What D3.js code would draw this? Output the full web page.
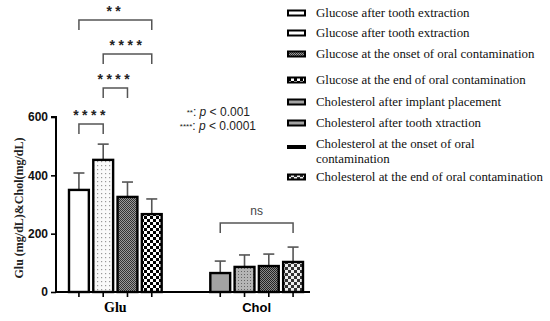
<!DOCTYPE html>
<html>
<head>
<meta charset="utf-8">
<script src="https://cdn.jsdelivr.net/npm/d3@7"></script>
<style>
  body { margin: 0; background: #fff; }
  svg { display: block; }
</style>
</head>
<body>
<div id="drawing-area" style="width:550px;height:321px"></div>
<script>
// data
var groups = ["Glu", "Chol"];
var gluMeans = [350, 453, 326, 267];
var gluErr = [58, 54, 51, 52];
var cholMeans = [65, 86, 89, 103];
var cholErr = [41, 41, 41, 51];
var yTicks = [0, 200, 400, 600];
var legendLabels = [
    ["Glucose after tooth extraction"],
    ["Glucose after tooth extraction"],
    ["Glucose at the onset of oral contamination"],
    ["Glucose at the end of oral contamination"],
    ["Cholesterol after implant placement"],
    ["Cholesterol after tooth xtraction"],
    ["Cholesterol at the onset of oral", "contamination"],
    ["Cholesterol at the end of oral contamination"]
];
// brackets: [group, from bar, to bar, label]
var brackets = [
    ["Glu", 0, 3, "**"],
    ["Glu", 1, 3, "****"],
    ["Glu", 1, 2, "****"],
    ["Glu", 0, 1, "****"],
    ["Chol", 0, 3, "ns"]
];

var sx = 550, sy = 321;
var svg = d3.select('#drawing-area').append('svg').attr('width', sx).attr('height', sy);

// fill patterns
var defs = svg.append("defs");
function pat(id, size, bg, draw) {
    var p = defs.append("pattern").attr("id", id).attr("patternUnits", "userSpaceOnUse")
        .attr("width", size).attr("height", size);
    p.append("rect").attr("width", size).attr("height", size).attr("fill", bg);
    draw(p);
}
pat("p0", 4, "#fff", function (p) {});
pat("p1", 4, "#fafafa", function (p) {
    p.append("rect").attr("x", 1).attr("y", 1).attr("width", 1.2).attr("height", 1.2).attr("fill", "#999");
});
pat("p2", 2, "#9a9a9a", function (p) {
    p.append("rect").attr("width", 1).attr("height", 1).attr("fill", "#333");
    p.append("rect").attr("x", 1).attr("y", 1).attr("width", 1).attr("height", 1).attr("fill", "#333");
});
pat("p3", 6, "#fff", function (p) {
    p.append("rect").attr("width", 3).attr("height", 3).attr("fill", "#000");
    p.append("rect").attr("x", 3).attr("y", 3).attr("width", 3).attr("height", 3).attr("fill", "#000");
});
pat("p4", 4, "#a3a3a3", function (p) {});
pat("p5", 3, "#b5b5b5", function (p) {
    p.append("rect").attr("x", 1).attr("y", 1).attr("width", 1).attr("height", 1).attr("fill", "#666");
});
pat("p6", 2, "#8a8a8a", function (p) {
    p.append("rect").attr("width", 1).attr("height", 1).attr("fill", "#222");
    p.append("rect").attr("x", 1).attr("y", 1).attr("width", 1).attr("height", 1).attr("fill", "#222");
});
pat("p7", 6, "#eee", function (p) {
    p.append("rect").attr("width", 3).attr("height", 3).attr("fill", "#333");
    p.append("rect").attr("x", 3).attr("y", 3).attr("width", 3).attr("height", 3).attr("fill", "#333");
});
var fills = { Glu: ["p0", "p1", "p2", "p3"], Chol: ["p4", "p5", "p6", "p7"] };
var legendFills = ["p0", "p0", "p2", "p3", "p4", "p4", "p6", "p7"];

// scales
var y = d3.scaleLinear().domain([0, 600]).range([292, 117]);
var x0 = d3.scaleBand().domain(groups).range([68, 304]).paddingInner(0.33).paddingOuter(0);
var x1 = d3.scaleBand().domain([0, 1, 2, 3]).range([0, x0.bandwidth()]).paddingInner(0.1).paddingOuter(0);

var series = [
    { g: "Glu", means: gluMeans, err: gluErr },
    { g: "Chol", means: cholMeans, err: cholErr }
];
var bars = [];
series.forEach(function (s) {
    s.means.forEach(function (m, i) {
        bars.push({ g: s.g, i: i, v: m, e: s.err[i] });
    });
});
function cx(d) { return x0(d.g) + x1(d.i) + x1.bandwidth() / 2; }

// error bars (upper only)
var eb = svg.append("g").attr("stroke", "#555").attr("stroke-width", 1.6);
bars.forEach(function (d) {
    eb.append("line").attr("x1", cx(d)).attr("x2", cx(d)).attr("y1", y(d.v)).attr("y2", y(d.v + d.e));
    eb.append("line").attr("x1", cx(d) - 5.5).attr("x2", cx(d) + 5.5).attr("y1", y(d.v + d.e)).attr("y2", y(d.v + d.e));
});

// bars
svg.append("g").selectAll("rect").data(bars).enter().append("rect")
    .attr("x", function (d) { return x0(d.g) + x1(d.i) + 1; })
    .attr("y", function (d) { return y(d.v); })
    .attr("width", x1.bandwidth() - 2)
    .attr("height", function (d) { return y(0) - y(d.v); })
    .attr("fill", function (d) { return "url(#" + fills[d.g][d.i] + ")"; })
    .attr("stroke", "#000").attr("stroke-width", 2.4);

// y axis
var yAxis = svg.append("g").attr("transform", "translate(56,0)")
    .call(d3.axisLeft(y).tickValues(yTicks).tickSize(5).tickPadding(3));
yAxis.select(".domain").attr("stroke", "#000").attr("stroke-width", 2).attr("d", "M-5," + y(600) + "H0V" + y(0));
yAxis.selectAll(".tick line").attr("stroke", "#000").attr("stroke-width", 1.6);
yAxis.selectAll(".tick text").attr("font-family", "Liberation Sans, Arial, sans-serif")
    .attr("font-size", 12).attr("font-weight", "bold").attr("fill", "#111");

// x baseline and ticks
svg.append("line").attr("x1", 55).attr("x2", 310).attr("y1", y(0)).attr("y2", y(0))
    .attr("stroke", "#000").attr("stroke-width", 2);
svg.append("g").selectAll("line").data(bars).enter().append("line")
    .attr("x1", cx).attr("x2", cx).attr("y1", y(0)).attr("y2", y(0) + 5)
    .attr("stroke", "#000").attr("stroke-width", 1.6);
svg.append("text").attr("x", x0("Glu") + x0.bandwidth() / 2).attr("y", 312)
    .attr("text-anchor", "middle").attr("font-family", "Liberation Serif, serif")
    .attr("font-weight", "bold").attr("font-size", 14).text("Glu");
svg.append("text").attr("x", x0("Chol") + x0.bandwidth() / 2).attr("y", 312)
    .attr("text-anchor", "middle").attr("font-family", "Liberation Sans, Arial, sans-serif")
    .attr("font-weight", "bold").attr("font-size", 13).text("Chol");

// y label
svg.append("text").attr("transform", "translate(23,208) rotate(-90)")
    .attr("text-anchor", "middle").attr("font-family", "Liberation Serif, serif")
    .attr("font-weight", "bold").attr("font-size", 12).attr("fill", "#222")
    .text("Glu (mg/dL)&Chol(mg/dL)");

// significance brackets
var bracketTops = [20, 54, 88, 124, 223];
var bk = svg.append("g");
brackets.forEach(function (b, k) {
    var xa = x0(b[0]) + x1(b[1]) + x1.bandwidth() / 2;
    var xb = x0(b[0]) + x1(b[2]) + x1.bandwidth() / 2;
    var t = bracketTops[k];
    bk.append("path").attr("d", "M" + xa + "," + (t + 10) + "V" + t + "H" + xb + "V" + (t + 10))
        .attr("fill", "none").attr("stroke", "#555").attr("stroke-width", 1.5);
    var lab = bk.append("text").attr("x", (xa + xb) / 2).attr("text-anchor", "middle").text(b[3]);
    if (b[3] == "ns") {
        lab.attr("y", t - 8).attr("font-family", "Liberation Sans, Arial, sans-serif")
            .attr("font-size", 12).attr("fill", "#444");
    } else {
        lab.attr("y", t - 4).attr("font-family", "Liberation Sans, Arial, sans-serif")
            .attr("font-size", 14).attr("font-weight", "bold").attr("letter-spacing", 3.5)
            .attr("fill", "#222");
    }
});

// p-value note
var note = svg.append("g").attr("font-family", "Liberation Sans, Arial, sans-serif").attr("font-size", 12).attr("fill", "#222");
var n1 = note.append("text").attr("x", 250).attr("y", 116).attr("text-anchor", "end");
n1.append("tspan").attr("font-size", 8).attr("dy", -1).text("**");
n1.append("tspan").attr("dy", 1).text(": ");
n1.append("tspan").attr("font-style", "italic").text("p");
n1.append("tspan").text(" < 0.001");
var n2 = note.append("text").attr("x", 256).attr("y", 130).attr("text-anchor", "end");
n2.append("tspan").attr("font-size", 8).attr("dy", -1).text("****");
n2.append("tspan").attr("dy", 1).text(": ");
n2.append("tspan").attr("font-style", "italic").text("p");
n2.append("tspan").text(" < 0.0001");

// legend
var legendY = [13, 33, 54, 80, 102, 123, 144, 177];
var lg = svg.append("g");
legendLabels.forEach(function (lines, i) {
    var ly = legendY[i];
    var sw = lines.length > 1 ? 2 : 5;
    lg.append("rect").attr("x", 288).attr("y", ly + (lines.length > 1 ? 2 : -2.5)).attr("width", 17).attr("height", sw)
        .attr("fill", "url(#" + legendFills[i] + ")").attr("stroke", "#000").attr("stroke-width", 2);
    lines.forEach(function (line, j) {
        lg.append("text").attr("x", 316).attr("y", ly + 4 + j * 15)
            .attr("font-family", "Liberation Serif, serif").attr("font-size", 12.9)
            .attr("fill", "#111").text(line);
    });
});
</script>
</body>
</html>
